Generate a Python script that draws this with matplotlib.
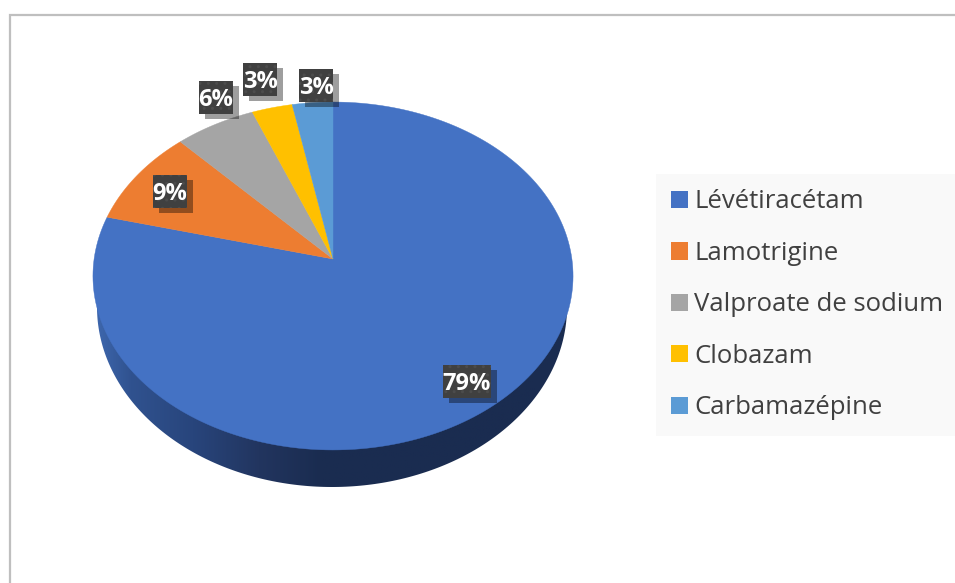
import matplotlib
matplotlib.use('Agg')
import matplotlib.pyplot as plt
import numpy as np
from matplotlib.colors import LinearSegmentedColormap
from matplotlib.patches import Patch, Polygon, Rectangle

drugs = ['Lévétiracétam', 'Lamotrigine', 'Valproate de sodium', 'Clobazam', 'Carbamazépine']
shares = [79, 9, 6, 3, 3]
colors = ['#4472C4', '#ED7D31', '#A5A5A5', '#FFC000', '#5B9BD5']
# top left corner of each label box, in pixels
label_boxes = [(443, 365), (153, 175), (199, 81), (243, 63), (299, 69)]

plt.rcParams['font.family'] = ['Open Sans', 'DejaVu Sans']

# perspective squeeze of the unit circle, so the apex sits above the ellipse centre
cx, cy = 333, 259
k = 0.0977
a = 238.9
b = 172.3


def rim(deg):
    t = np.radians(deg)
    x, y = np.sin(t), np.cos(t)
    d = 1 + k * y
    return cx + a * x / d, cy - b * y / d


fig = plt.figure(figsize=(9.55, 5.83), dpi=100)
ax = fig.add_axes([0, 0, 1, 1])

# side of the disc, lighter on the left
t = np.linspace(0, 2 * np.pi, 400)
side = Polygon(np.column_stack([332 + 235 * np.cos(t), 307 + 180 * np.sin(t)]),
               closed=True, transform=ax.transData, fc='none', ec='none')
ax.add_patch(side)
cmap = LinearSegmentedColormap.from_list('side', [(0, '#3D66AC'), (0.07, '#30528F'), (0.2, '#28457C'),
                                                  (0.34, '#22355F'), (0.47, '#1A2C50'), (1, '#1A2C50')])
img = ax.imshow(np.linspace(0, 1, 256).reshape(1, -1), extent=(97, 573, 490, 290), cmap=cmap,
                aspect='auto', zorder=1)
img.set_clip_path(side)

# top of the disc
start = 0
for share, color in zip(shares, colors):
    end = start + share * 3.6
    xs, ys = rim(np.linspace(start, end, 200))
    ax.fill(np.r_[cx, xs], np.r_[cy, ys], color=color, lw=0.3, zorder=2)
    start = end

# data labels
for share, (x, y) in zip(shares, label_boxes):
    w = 48 if share >= 10 else 34
    ax.add_patch(Rectangle((x + 6, y + 5), w, 33, fc='black', alpha=0.38, ec='none', zorder=3))
    ax.add_patch(Rectangle((x, y), w, 33, fc='#404040', ec='#4C4C4C', hatch='..', lw=0, zorder=4))
    ax.text(x + w / 2, y + 16.5, f'{share}%', color='white', fontsize=17, fontweight='bold',
            ha='center', va='center_baseline', zorder=5)

# chart frame, cropped on the right and bottom
ax.plot([10, 10, 955], [583, 15, 15], color='#BFBFBF', lw=1.6, solid_joinstyle='miter', zorder=0)

handles = [Patch(fc=c, ec='none') for c in colors]
leg = ax.legend(handles, drugs, loc='upper left', bbox_to_anchor=(656, 174), bbox_transform=ax.transData,
                fontsize=18.5, frameon=True, fancybox=False, facecolor='#F9F9F9', edgecolor='none', framealpha=1,
                handlelength=0.66, handleheight=0.66, handletextpad=0.22, labelspacing=1.03,
                borderaxespad=0, borderpad=0.6, labelcolor='#404040')

ax.set_xlim(0, 955)
ax.set_ylim(583, 0)
ax.axis('off')
fig.savefig('out.png', dpi=100)
